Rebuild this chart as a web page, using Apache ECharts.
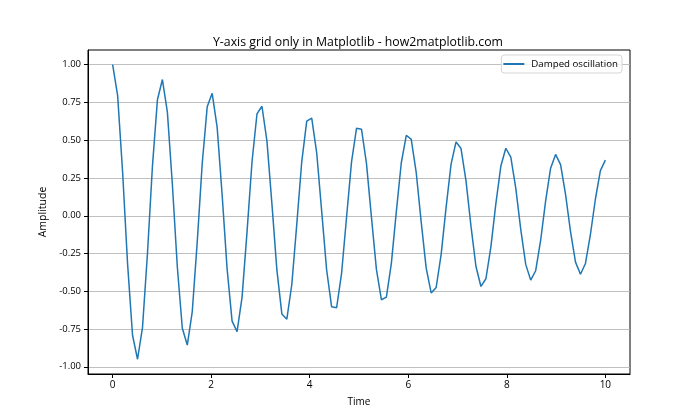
<!DOCTYPE html>
<html>
<head>
<meta charset="utf-8">
<script src="https://cdn.jsdelivr.net/npm/echarts@6/dist/echarts.min.js"></script>
<style>html,body{margin:0;padding:0;background:#fff}#c{width:700px;height:420px}</style>
</head>
<body>
<div id="c"></div>
<script>
var timeValues = [0.0000,0.1010,0.2020,0.3030,0.4040,0.5051,0.6061,0.7071,0.8081,0.9091,1.0101,1.1111,1.2121,1.3131,1.4141,1.5152,1.6162,1.7172,1.8182,1.9192,2.0202,2.1212,2.2222,2.3232,2.4242,2.5253,2.6263,2.7273,2.8283,2.9293,3.0303,3.1313,3.2323,3.3333,3.4343,3.5354,3.6364,3.7374,3.8384,3.9394,4.0404,4.1414,4.2424,4.3434,4.4444,4.5455,4.6465,4.7475,4.8485,4.9495,5.0505,5.1515,5.2525,5.3535,5.4545,5.5556,5.6566,5.7576,5.8586,5.9596,6.0606,6.1616,6.2626,6.3636,6.4646,6.5657,6.6667,6.7677,6.8687,6.9697,7.0707,7.1717,7.2727,7.3737,7.4747,7.5758,7.6768,7.7778,7.8788,7.9798,8.0808,8.1818,8.2828,8.3838,8.4848,8.5859,8.6869,8.7879,8.8889,8.9899,9.0909,9.1919,9.2929,9.3939,9.4949,9.5960,9.6970,9.7980,9.8990,10.0000];
var amplitudeValues = [1.000,0.797,0.291,-0.317,-0.791,-0.950,-0.740,-0.248,0.329,0.768,0.902,0.686,0.209,-0.339,-0.745,-0.856,-0.634,-0.173,0.346,0.721,0.811,0.585,0.139,-0.352,-0.698,-0.767,-0.540,-0.108,0.356,0.674,0.725,0.496,0.080,-0.358,-0.650,-0.685,-0.455,-0.055,0.359,0.626,0.646,0.417,0.031,-0.359,-0.603,-0.609,-0.381,-0.010,0.357,0.579,0.573,0.347,-0.009,-0.355,-0.556,-0.539,-0.315,0.027,0.351,0.533,0.506,0.285,-0.042,-0.347,-0.511,-0.475,-0.257,0.056,0.342,0.489,0.445,0.231,-0.069,-0.336,-0.468,-0.417,-0.206,0.080,0.329,0.447,0.389,0.183,-0.090,-0.322,-0.426,-0.364,-0.162,0.098,0.315,0.406,0.339,0.142,-0.105,-0.307,-0.387,-0.316,-0.124,0.111,0.299,0.368];
var xTicks = [0, 2, 4, 6, 8, 10];
var yTicks = [-1.00, -0.75, -0.50, -0.25, 0.00, 0.25, 0.50, 0.75, 1.00];
var seriesName = 'Damped oscillation';

var FONT = 'Open Sans';
var chart = echarts.init(document.getElementById('c'), null, {renderer: 'canvas'});
chart.setOption({
  animation: false,
  backgroundColor: '#fff',
  textStyle: {fontFamily: FONT},
  title: {
    text: 'Y-axis grid only in Matplotlib - how2matplotlib.com',
    left: 208, top: 31,
    padding: 5,
    textStyle: {fontFamily: FONT, fontSize: 12.3, fontWeight: 'normal', color: '#000'}
  },
  legend: {
    data: [seriesName],
    right: 78, top: 55,
    orient: 'vertical',
    backgroundColor: 'rgba(255,255,255,0.8)',
    borderColor: '#d5d5d5', borderWidth: 1, borderRadius: 3,
    padding: [4, 4, 4, 2],
    itemWidth: 21, itemHeight: 2, itemGap: 0,
    icon: 'rect',
    textStyle: {fontFamily: FONT, fontSize: 9.7, color: '#000', padding: [0, 0, 0, 2]}
  },
  grid: {
    left: 88, right: 70, top: 50, bottom: 46,
    show: true, borderColor: '#000', borderWidth: 1, backgroundColor: 'transparent'
  },
  xAxis: {
    type: 'value', min: -0.5, max: 10.5,
    name: 'Time', nameLocation: 'middle', nameGap: 23,
    nameTextStyle: {fontFamily: FONT, fontSize: 10, color: '#000'},
    axisLine: {show: true, onZero: false, lineStyle: {color: '#000', width: 1}},
    axisTick: {show: true, length: 4, customValues: xTicks, lineStyle: {color: '#000'}},
    axisLabel: {customValues: xTicks, fontFamily: FONT, fontSize: 10, color: '#000', margin: 6},
    splitLine: {show: false}
  },
  yAxis: {
    type: 'value', min: -1.0477, max: 1.0975,
    name: 'Amplitude', nameLocation: 'middle', nameGap: 36, nameRotate: 90,
    nameTextStyle: {fontFamily: FONT, fontSize: 10.5, color: '#000'},
    axisLine: {show: true, onZero: false, lineStyle: {color: '#000', width: 1}},
    axisTick: {show: true, length: 4, customValues: yTicks, lineStyle: {color: '#000'}},
    axisLabel: {customValues: yTicks, fontFamily: FONT, fontSize: 9.5, color: '#000', margin: 7,
      formatter: function (v) { return v.toFixed(2); }},
    splitLine: {show: true, lineStyle: {color: '#b0b0b0', width: 0.8}}
  },
  series: [{
    name: seriesName, type: 'line',
    data: timeValues.map(function (t, i) { return [t, amplitudeValues[i]]; }),
    showSymbol: false, symbol: 'none',
    lineStyle: {color: '#1f77b4', width: 1.5},
    itemStyle: {color: '#1f77b4'}
  }]
});
</script>
</body>
</html>
